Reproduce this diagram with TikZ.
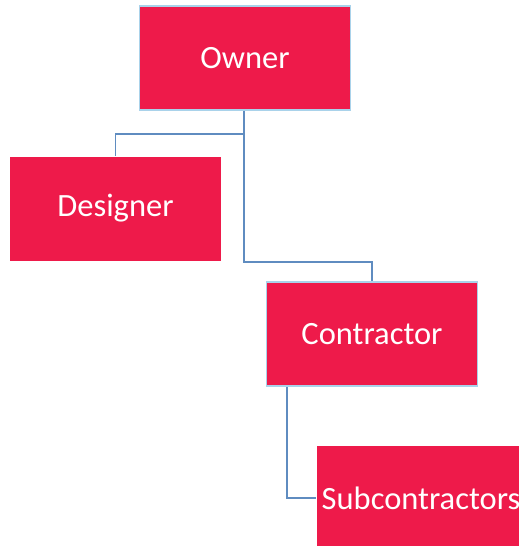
\documentclass[tikz,border=0pt]{standalone}
\usepackage{fontspec}
\setmainfont{Carlito}
\definecolor{boxred}{HTML}{EE1A4A}
\definecolor{boxedge}{HTML}{A9D2EA}
\definecolor{linkblue}{HTML}{5F8CC0}
\begin{document}
\begin{tikzpicture}[x=1pt,y=-1pt,
  orgbox/.style={rectangle, fill=boxred, draw=boxedge, line width=1.5pt, text=white,
    minimum width=211pt, minimum height=104pt, inner sep=2pt,
    font=\fontsize{32.5}{39}\selectfont},
  link/.style={draw=linkblue, line width=1.8pt}]
\useasboundingbox (0,0) rectangle (519,546);
\node[orgbox] (owner) at (245,58) {Owner};
\node[orgbox, draw=none] (designer) at (115.5,208.5) {Designer};
\node[orgbox] (contractor) at (372,334) {Contractor};
\node[orgbox, draw=none, minimum width=208pt, minimum height=104pt] (sub) at (421,498) {Subcontractors};
\coordinate (split) at (244,134);
\draw[link] ([xshift=-1pt]owner.south) -- (split) -| (designer.north);
\draw[link] (split) |- (300,262) -| (contractor.north);
\draw[link] ([xshift=21pt]contractor.south west) |- (sub.west);
\end{tikzpicture}
\end{document}
